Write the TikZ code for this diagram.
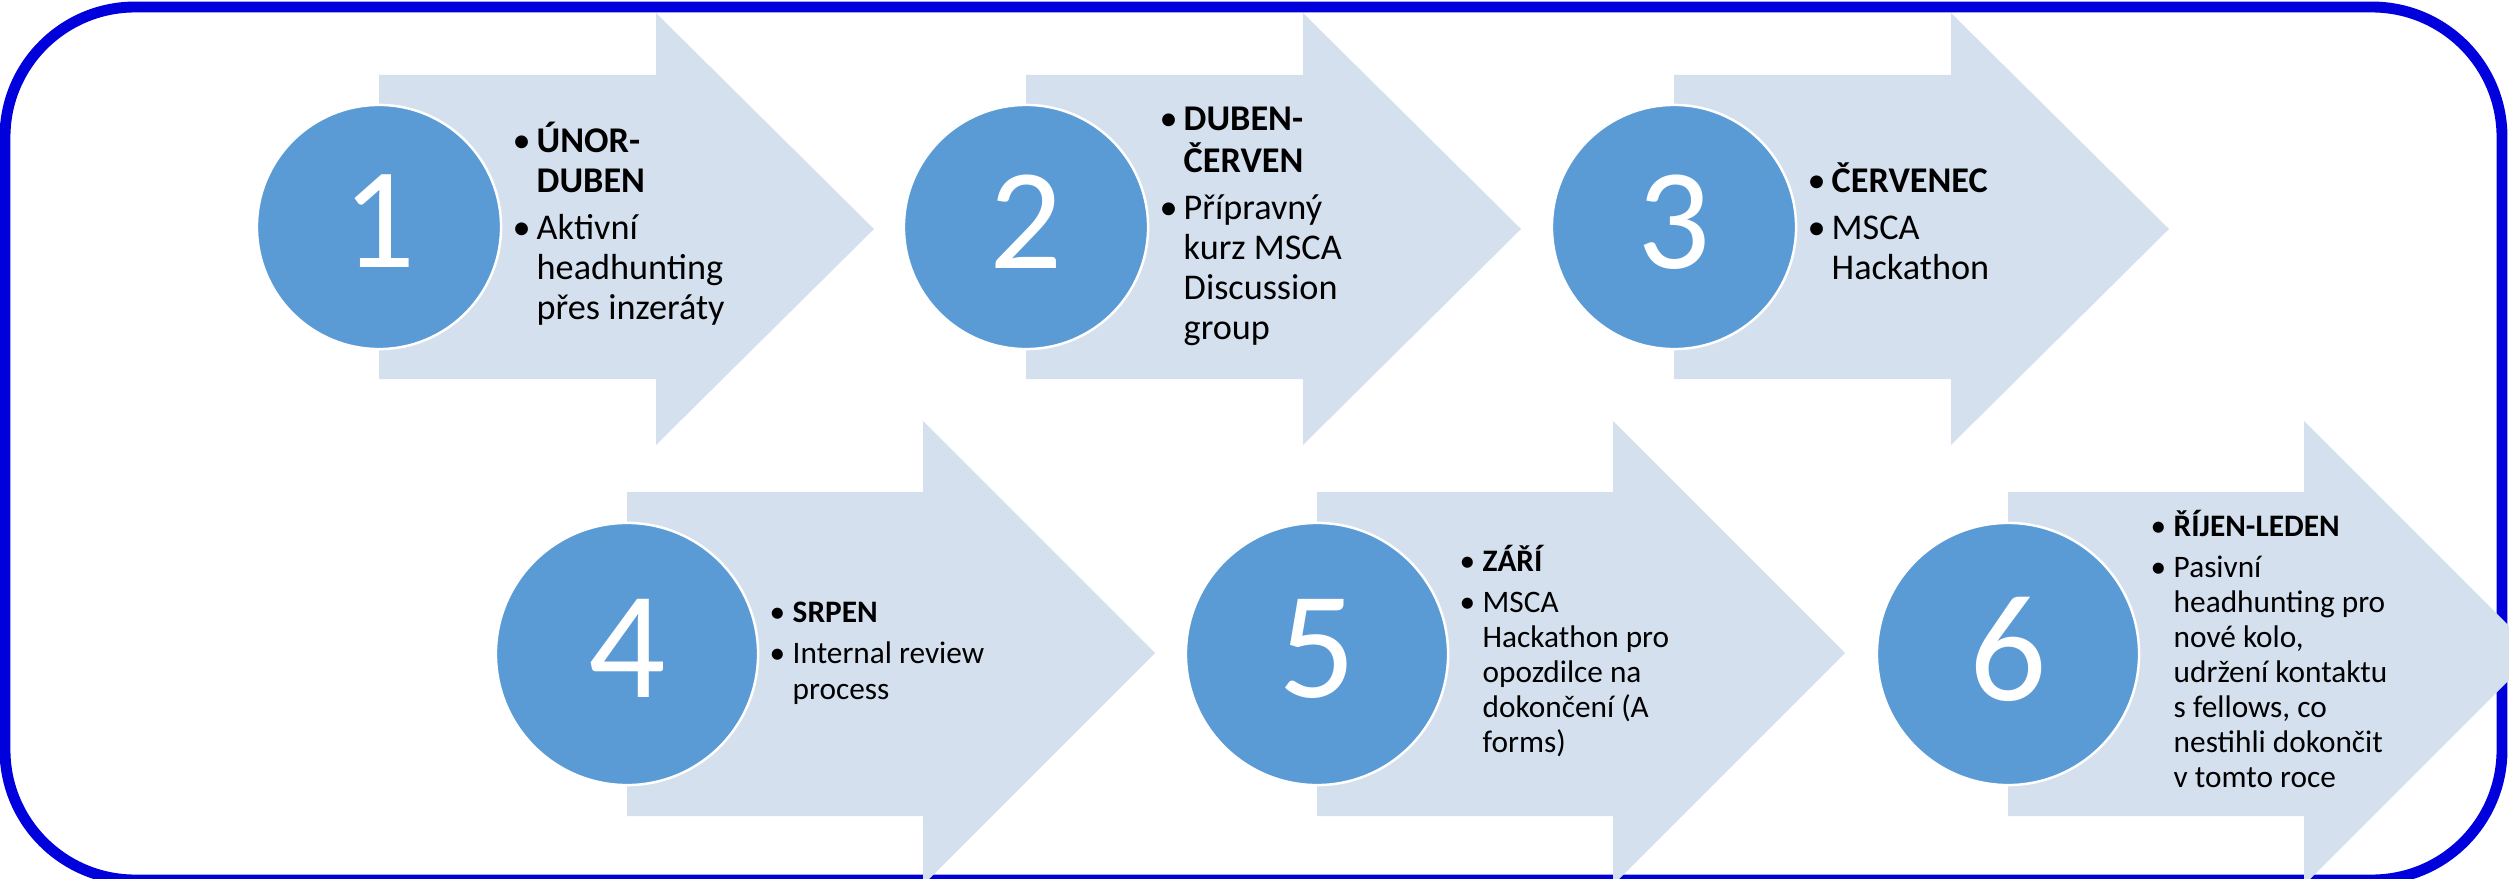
\documentclass[tikz,border=0pt]{standalone}
\usepackage{fontspec}
\setmainfont{Carlito}
\usepackage{xcolor}
\usepackage{tikz}
\definecolor{rimblue}{RGB}{0,0,221}
\definecolor{shaftfill}{RGB}{213,224,239}
\definecolor{discblue}{RGB}{91,155,213}

\begin{document}
\begin{tikzpicture}[
    x=0.01cm, y=-0.01cm,
    panel/.style={draw=rimblue, line width=3.1pt, rounded corners=1.3cm},
    chevron/.style={fill=shaftfill},
    disc/.style={circle, fill=discblue, draw=white, line width=0.7pt, text=white, inner sep=0pt, text depth=0.11cm},
    discup/.style={disc, minimum size=2.44cm, font=\fontsize{41}{41}\selectfont},
    disclow/.style={disc, minimum size=2.62cm, font=\fontsize{43.5}{43.5}\selectfont},
    noteup/.style={anchor=west, inner sep=0pt, font=\fontsize{10.3}{11.4}\selectfont},
    notelow/.style={anchor=west, inner sep=0pt, font=\fontsize{8.9}{9.96}\selectfont},
]
\useasboundingbox (0,0) rectangle (2509,879);

% Frame
\draw[panel] (5,7) rectangle (2502,880);

% Arrows, upper row
\fill[chevron] (379,75) -- (656,75) -- (656,13) -- (874,229) -- (656,445) -- (656,379) -- (379,379) -- cycle;
\fill[chevron] (1026,75) -- (1303,75) -- (1303,13) -- (1521,229) -- (1303,445) -- (1303,379) -- (1026,379) -- cycle;
\fill[chevron] (1674,75) -- (1951,75) -- (1951,13) -- (2169,229) -- (1951,445) -- (1951,379) -- (1674,379) -- cycle;

% Arrows, lower row
\fill[chevron] (627,492) -- (923,492) -- (923,421) -- (1155,653) -- (923,885) -- (923,816) -- (627,816) -- cycle;
\fill[chevron] (1317,492) -- (1613,492) -- (1613,421) -- (1845,653) -- (1613,885) -- (1613,816) -- (1317,816) -- cycle;
\fill[chevron] (2008,492) -- (2304,492) -- (2304,421) -- (2536,653) -- (2304,885) -- (2304,816) -- (2008,816) -- cycle;

% Numbered discs
\node[discup] (unor) at (379,227) {1};
\node[discup] (duben) at (1026,227) {2};
\node[discup] (cervenec) at (1674,227) {3};
\node[disclow] (srpen) at (627,654) {4};
\node[disclow] (zari) at (1317,654) {5};
\node[disclow] (rijen) at (2008,654) {6};

% Texts
\node[noteup] (unor-txt) at (512,227) {\begin{tabular}{@{}p{0.24cm}@{}l@{}}
\textbullet & \textbf{ÚNOR-}\\ & \textbf{DUBEN}\\[2pt]
\textbullet & Aktivní\\ & headhunting\\ & přes inzeráty
\end{tabular}};
\node[noteup] (duben-txt) at (1159,227) {\begin{tabular}{@{}p{0.24cm}@{}l@{}}
\textbullet & \textbf{DUBEN-}\\ & \textbf{ČERVEN}\\[2pt]
\textbullet & Přípravný\\ & kurz MSCA\\ & Discussion\\ & group
\end{tabular}};
\node[noteup] (cervenec-txt) at (1807,227) {\begin{tabular}{@{}p{0.24cm}@{}l@{}}
\textbullet & \textbf{ČERVENEC}\\[2pt]
\textbullet & MSCA\\ & Hackathon
\end{tabular}};
\node[notelow] (srpen-txt) at (769,654) {\begin{tabular}{@{}p{0.23cm}@{}l@{}}
\textbullet & \textbf{SRPEN}\\[1.7pt]
\textbullet & Internal review\\ & process
\end{tabular}};
\node[notelow] (zari-txt) at (1459,654) {\begin{tabular}{@{}p{0.23cm}@{}l@{}}
\textbullet & \textbf{ZÁŘÍ}\\[1.7pt]
\textbullet & MSCA\\ & Hackathon pro\\ & opozdilce na\\ & dokončení (A\\ & forms)
\end{tabular}};
\node[notelow] (rijen-txt) at (2150,654) {\begin{tabular}{@{}p{0.23cm}@{}l@{}}
\textbullet & \textbf{ŘÍJEN-LEDEN}\\[1.7pt]
\textbullet & Pasivní\\ & headhunting pro\\ & nové kolo,\\ & udržení kontaktu\\ & s fellows, co\\ & nestihli dokončit\\ & v tomto roce
\end{tabular}};

\end{tikzpicture}
\end{document}
